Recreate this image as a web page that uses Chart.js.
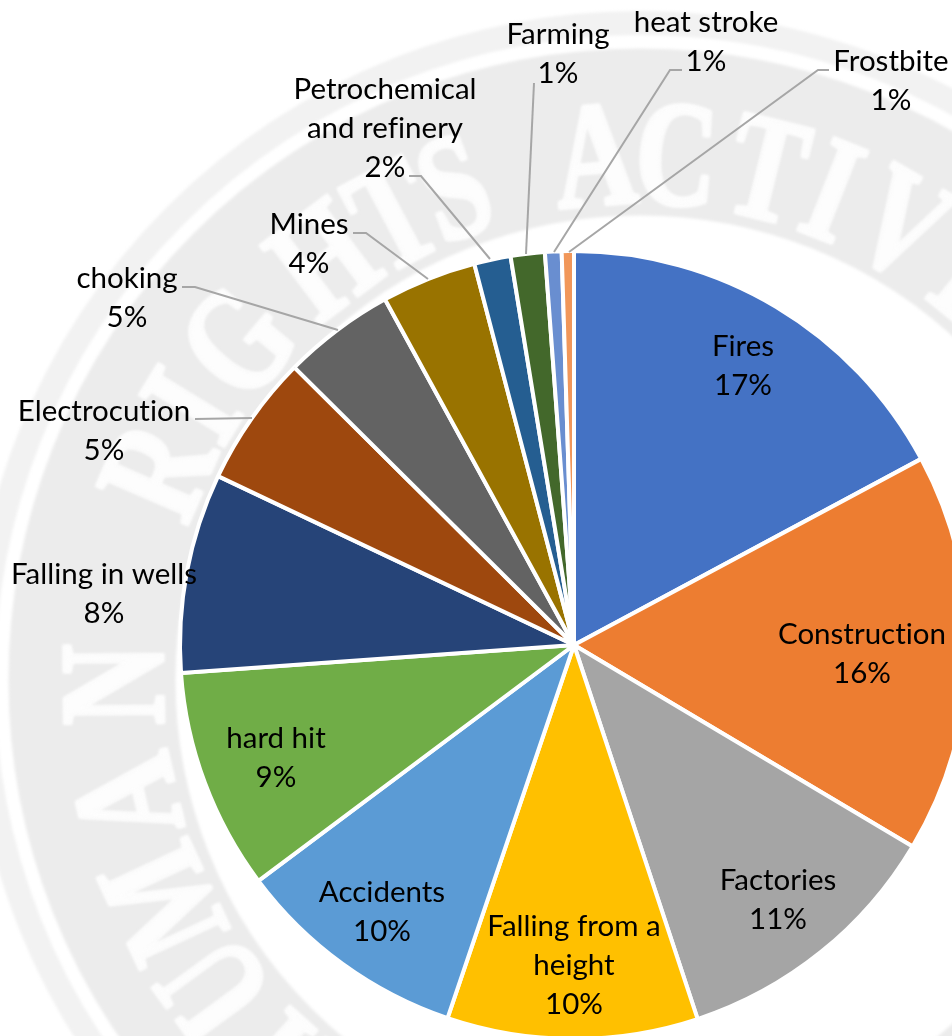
<!DOCTYPE html>
<html>
<head>
<meta charset="utf-8">
<title>Deaths by cause</title>
<script src="https://cdn.jsdelivr.net/npm/chart.js@4"></script>
<style>
  html, body { margin: 0; padding: 0; background: #fff; overflow: hidden; }
  #wrap { width: 952px; height: 1036px; overflow: hidden; }
</style>
</head>
<body>
<div id="wrap"><canvas id="pie"></canvas></div>
<script>
const categories = ['Fires', 'Construction', 'Factories', 'Falling from a height', 'Accidents', 'hard hit',
  'Falling in wells', 'Electrocution', 'choking', 'Mines', 'Petrochemical and refinery', 'Farming',
  'heat stroke', 'Frostbite'];
const shares = [17.2, 16.4, 11.4, 10.3, 9.6, 9.1, 8.2, 5.4, 4.6, 3.9, 1.5, 1.4, 0.68, 0.5];
const percentLabels = ['17%', '16%', '11%', '10%', '10%', '9%', '8%', '5%', '5%', '4%', '2%', '1%', '1%', '1%'];
const colors = ['#4472C4', '#ED7D31', '#A5A5A5', '#FFC000', '#5B9BD5', '#70AD47', '#264478', '#9E480E',
  '#636363', '#997300', '#255E91', '#43682B', '#698ED0', '#F1975A'];

// label text, wrapped by hand the way the original wraps it: [lines, centre x, first line y]
const labelSpots = [
  [['Fires'], 743, 346],
  [['Construction'], 862, 634],
  [['Factories'], 778, 880],
  [['Falling from a', 'height'], 574, 926],
  [['Accidents'], 382, 892],
  [['hard hit'], 276, 738],
  [['Falling in wells'], 104, 574],
  [['Electrocution'], 104, 411],
  [['choking'], 127, 278],
  [['Mines'], 309, 224],
  [['Petrochemical', 'and refinery'], 385, 89],
  [['Farming'], 558, 34],
  [['heat stroke'], 706, 22],
  [['Frostbite'], 891, 61]
];
const leaderLines = [
  [[182, 287], [195, 287], [338, 330]],
  [[195, 419], [252, 418]],
  [[353, 233], [366, 233], [428, 279]],
  [[409, 176], [421, 176], [490, 259]],
  [[534, 83], [526, 254]],
  [[682, 70], [670, 70], [554, 252]],
  [[829, 70], [818, 70], [569, 252]]
];

// faint stamp behind the pie
const stampCentre = [640, 680];
const stampLetters = [
  ['H', -138], ['U', -126], ['M', -115], ['A', -103], ['N', -90.5],
  ['R', -66.5], ['I', -58.5], ['G', -50], ['H', -37], ['T', -28], ['S', -20.7],
  ['A', -4.9], ['C', 4], ['T', 14], ['I', 21.5], ['V', 30], ['I', 39], ['S', 47], ['T', 56], ['S', 65]
];

const stampPlugin = {
  id: 'stamp',
  beforeDraw(chart) {
    const ctx = chart.ctx;
    const [cx, cy] = stampCentre;
    ctx.save();
    ctx.filter = 'blur(1.5px)';
    ctx.strokeStyle = '#ececec';
    ctx.lineWidth = 167;
    ctx.beginPath();
    ctx.arc(cx, cy, 548, 0, Math.PI * 2);
    ctx.stroke();
    ctx.strokeStyle = '#f2f2f2';
    ctx.lineWidth = 24;
    ctx.beginPath();
    ctx.arc(cx, cy, 657, 0, Math.PI * 2);
    ctx.stroke();
    ctx.fillStyle = '#fdfdfd';
    ctx.strokeStyle = '#fdfdfd';
    ctx.lineWidth = 4;
    ctx.font = 'bold 150px "Liberation Serif"';
    ctx.textAlign = 'center';
    ctx.textBaseline = 'alphabetic';
    stampLetters.forEach(([ch, deg]) => {
      ctx.save();
      ctx.translate(cx, cy);
      ctx.rotate(deg * Math.PI / 180);
      ctx.translate(0, -477);
      ctx.scale(0.75, 1);
      ctx.fillText(ch, 0, 0);
      ctx.strokeText(ch, 0, 0);
      ctx.restore();
    });
    ctx.restore();
  }
};

const labelPlugin = {
  id: 'sliceLabels',
  afterDraw(chart) {
    const ctx = chart.ctx;
    ctx.save();
    ctx.strokeStyle = '#a6a6a6';
    ctx.lineWidth = 2;
    leaderLines.forEach(pts => {
      ctx.beginPath();
      pts.forEach(([x, y], i) => i ? ctx.lineTo(x, y) : ctx.moveTo(x, y));
      ctx.stroke();
    });
    ctx.fillStyle = '#000';
    ctx.font = '29.5px Lato';
    ctx.textRendering = 'optimizeSpeed'; // no ti ligature, the original has none
    ctx.textAlign = 'center';
    ctx.textBaseline = 'middle';
    labelSpots.forEach(([lines, x, y], i) => {
      lines.concat(percentLabels[i]).forEach((t, k) => ctx.fillText(t, x, y + k * 39));
    });
    ctx.restore();
  }
};

const canvas = document.getElementById('pie');
canvas.width = 1148;
canvas.height = 1290;
canvas.style.width = '1148px';
canvas.style.height = '1290px';

new Chart(canvas, {
  type: 'pie',
  data: {
    labels: categories,
    datasets: [{
      data: shares,
      backgroundColor: colors,
      borderColor: '#fff',
      borderWidth: 4
    }]
  },
  options: {
    responsive: false,
    animation: false,
    radius: 394,
    plugins: { legend: { display: false }, tooltip: { enabled: false } }
  },
  plugins: [stampPlugin, labelPlugin]
});
</script>
</body>
</html>
